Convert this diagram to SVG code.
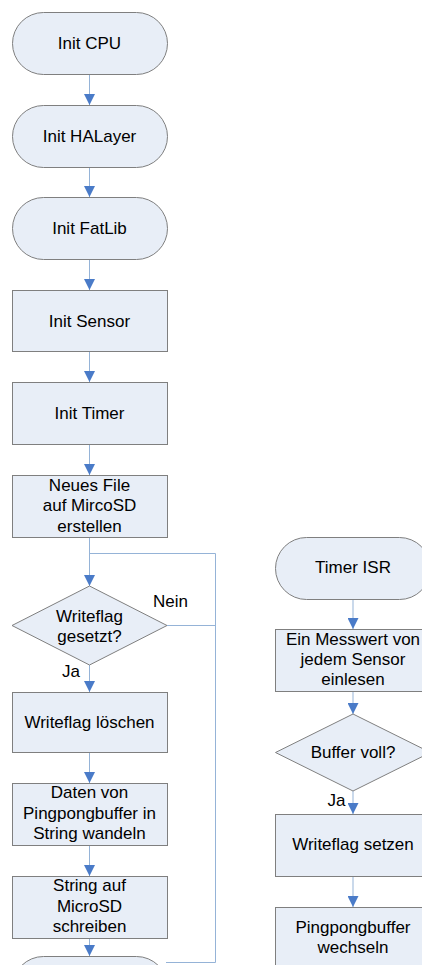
<svg xmlns="http://www.w3.org/2000/svg" width="422" height="965" viewBox="0 0 422 965">
<defs>
<style>
.n{fill:#e8eef7;stroke:#7f7f7f;stroke-width:1}
.t{font-family:"Liberation Sans",Arial,sans-serif;font-size:17px;fill:#000;text-anchor:middle}
.c{fill:none;stroke:#95b3d7;stroke-width:1}
</style>
<marker id="ah" markerUnits="userSpaceOnUse" markerWidth="12" markerHeight="11" refX="12" refY="6" orient="auto" viewBox="0 0 12 12">
<path d="M0,0 L12,6 L0,12 Z" fill="#4a7bc8"/>
</marker>
</defs>
<rect width="422" height="965" fill="#fff"/>
<g id="connectors">
<line class="c" x1="89.5" y1="74" x2="89.5" y2="105" marker-end="url(#ah)"/>
<line class="c" x1="89.5" y1="167" x2="89.5" y2="197" marker-end="url(#ah)"/>
<line class="c" x1="89.5" y1="259" x2="89.5" y2="290" marker-end="url(#ah)"/>
<line class="c" x1="89.5" y1="351" x2="89.5" y2="382" marker-end="url(#ah)"/>
<line class="c" x1="89.5" y1="444" x2="89.5" y2="475" marker-end="url(#ah)"/>
<line class="c" x1="89.5" y1="537" x2="89.5" y2="586" marker-end="url(#ah)"/>
<line class="c" x1="89.5" y1="665" x2="89.5" y2="692" marker-end="url(#ah)"/>
<line class="c" x1="89.5" y1="752" x2="89.5" y2="783" marker-end="url(#ah)"/>
<line class="c" x1="89.5" y1="845" x2="89.5" y2="876" marker-end="url(#ah)"/>
<line class="c" x1="89.5" y1="938" x2="89.5" y2="956" marker-end="url(#ah)"/>
<polyline class="c" points="89.5,553.5 215.5,553.5 215.5,962.5 166,962.5"/>
<line class="c" x1="167" y1="625.5" x2="215.5" y2="625.5"/>
<line class="c" x1="353" y1="599" x2="353" y2="629" marker-end="url(#ah)"/>
<line class="c" x1="353" y1="691" x2="353" y2="714" marker-end="url(#ah)"/>
<line class="c" x1="353" y1="791" x2="353" y2="814" marker-end="url(#ah)"/>
<line class="c" x1="353" y1="876" x2="353" y2="907" marker-end="url(#ah)"/>
</g>
<g id="init-cpu"><rect class="n" x="12.5" y="12.5" width="155" height="62" rx="31"/><text class="t" x="89.5" y="49">Init CPU</text></g>
<g id="init-halayer"><rect class="n" x="12.5" y="105.5" width="155" height="62" rx="31"/><text class="t" x="89.5" y="142">Init HALayer</text></g>
<g id="init-fatlib"><rect class="n" x="12.5" y="197.5" width="155" height="62" rx="31"/><text class="t" x="89.5" y="234">Init FatLib</text></g>
<g id="init-sensor"><rect class="n" x="12.5" y="290.5" width="155" height="61"/><text class="t" x="89.5" y="327">Init Sensor</text></g>
<g id="init-timer"><rect class="n" x="12.5" y="382.5" width="155" height="62"/><text class="t" x="89.5" y="419">Init Timer</text></g>
<g id="neues-file"><rect class="n" x="12.5" y="475.5" width="155" height="62"/><text class="t" x="89.5" y="490.5">Neues File</text><text class="t" x="89.5" y="511">auf MircoSD</text><text class="t" x="89.5" y="531.5">erstellen</text></g>
<g id="writeflag-gesetzt"><polygon class="n" points="89.5,586 167,625.5 89.5,665 12,625.5"/><text class="t" x="89.5" y="621.5">Writeflag</text><text class="t" x="89.5" y="641.5">gesetzt?</text></g>
<text class="t" x="170.5" y="607">Nein</text>
<text class="t" x="71" y="677">Ja</text>
<g id="writeflag-loeschen"><rect class="n" x="12.5" y="692.5" width="155" height="60"/><text class="t" x="89.5" y="728">Writeflag löschen</text></g>
<g id="daten-von"><rect class="n" x="12.5" y="783.5" width="155" height="62"/><text class="t" x="89.5" y="798">Daten von</text><text class="t" x="89.5" y="818.5">Pingpongbuffer in</text><text class="t" x="89.5" y="838.5">String wandeln</text></g>
<g id="string-auf"><rect class="n" x="12.5" y="876.5" width="155" height="62"/><text class="t" x="89.5" y="891">String auf</text><text class="t" x="89.5" y="911.5">MicroSD</text><text class="t" x="89.5" y="931.5">schreiben</text></g>
<g id="end-node"><rect class="n" x="12.5" y="956.5" width="155" height="62" rx="31"/></g>
<g id="timer-isr"><rect class="n" x="275.5" y="537.5" width="155" height="62" rx="31"/><text class="t" x="353" y="573">Timer ISR</text></g>
<g id="messwert"><rect class="n" x="275.5" y="629.5" width="155" height="62"/><text class="t" x="353" y="645">Ein Messwert von</text><text class="t" x="353" y="665">jedem Sensor</text><text class="t" x="353" y="685">einlesen</text></g>
<g id="buffer-voll"><polygon class="n" points="353,714 430.5,752.5 353,791 275.5,752.5"/><text class="t" x="353" y="758">Buffer voll?</text></g>
<text class="t" x="336.5" y="806">Ja</text>
<g id="writeflag-setzen"><rect class="n" x="275.5" y="814.5" width="155" height="62"/><text class="t" x="353" y="850">Writeflag setzen</text></g>
<g id="pingpong-wechseln"><rect class="n" x="275.5" y="907.5" width="155" height="62"/><text class="t" x="353" y="933">Pingpongbuffer</text><text class="t" x="353" y="953">wechseln</text></g>
</svg>
